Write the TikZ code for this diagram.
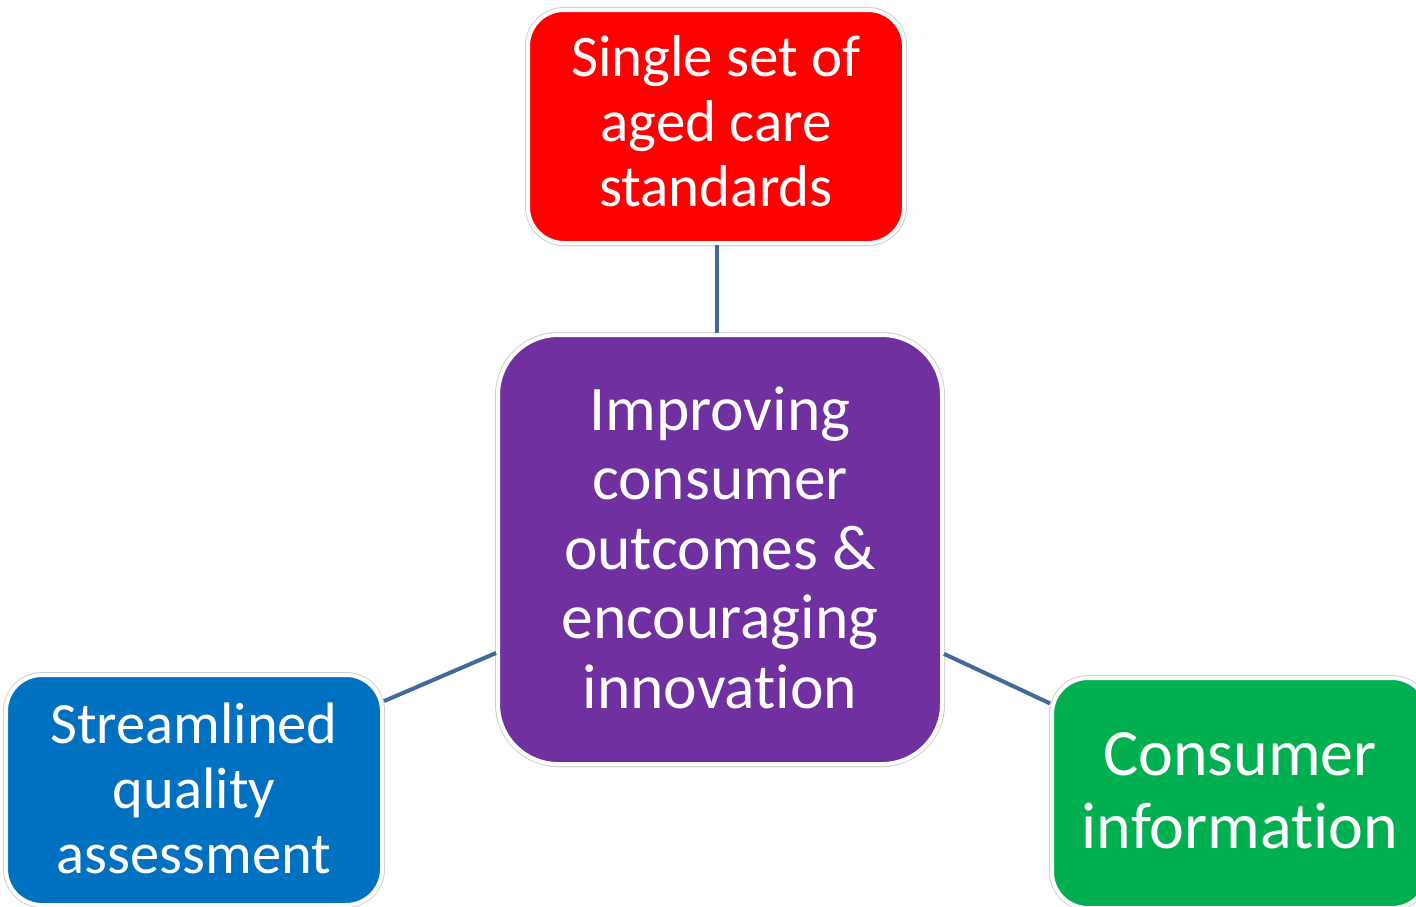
\documentclass[tikz,border=0pt]{standalone}
\usepackage{fontspec}
\setmainfont{Carlito}[Ligatures=NoCommon]
\usetikzlibrary{calc}
\definecolor{cred}{HTML}{FF0000}
\definecolor{cpurple}{HTML}{7030A0}
\definecolor{cblue}{HTML}{0070C0}
\definecolor{cgreen}{HTML}{00B050}
\definecolor{clink}{HTML}{41699A}
\definecolor{cedge}{HTML}{D0D0D0}
\tikzset{
  box/.style={rounded corners=#1, draw=white, line width=4pt, text=white,
    align=center, inner sep=0pt,
    preaction={draw=cedge, line width=6pt}},
  link/.style={draw=clink, line width=4pt}
}
\begin{document}
\begin{tikzpicture}[x=1pt,y=-1pt]
\useasboundingbox (0,0) rectangle (1416,906);
\clip (0,0) rectangle (1416,906);
\node[box=36pt, fill=cred, minimum width=376pt, minimum height=233pt,
  font=\fontsize{59}{65}\selectfont] (std) at (716,126.5)
  {\raisebox{5pt}[\height][\depth]{\parbox{370pt}{\centering Single set of\\aged care\\standards}}};
\node[box=60pt, fill=cpurple, minimum width=444pt, minimum height=429pt,
  font=\fontsize{63.5}{69.5}\selectfont] (core) at (720,549.5)
  {\raisebox{2pt}[\height][\depth]{\parbox{440pt}{\centering Improving\\consumer\\outcomes \&\\encouraging\\innovation}}};
\node[box=36pt, fill=cblue, minimum width=376pt, minimum height=230pt,
  font=\fontsize{58.5}{65}\selectfont] (qual) at (194,790)
  {\raisebox{2pt}[\height][\depth]{\parbox{370pt}{\centering Streamlined\\quality\\assessment}}};
\node[box=36pt, fill=cgreen, minimum width=376pt, minimum height=230pt,
  font=\fontsize{66}{73}\selectfont] (info) at (1240,793)
  {\raisebox{2pt}[\height][\depth]{\parbox{370pt}{\centering Consumer\\information}}};
\draw[link] (std.south -| 717,0) -- (core.north -| 717,0);
\draw[link] ($(qual.north east)!0.12!(qual.south east)$) -- ($(core.north west)!0.739!(core.south west)$);
\draw[link] ($(core.north east)!0.741!(core.south east)$) -- ($(info.north west)!0.117!(info.south west)$);
\end{tikzpicture}
\end{document}
